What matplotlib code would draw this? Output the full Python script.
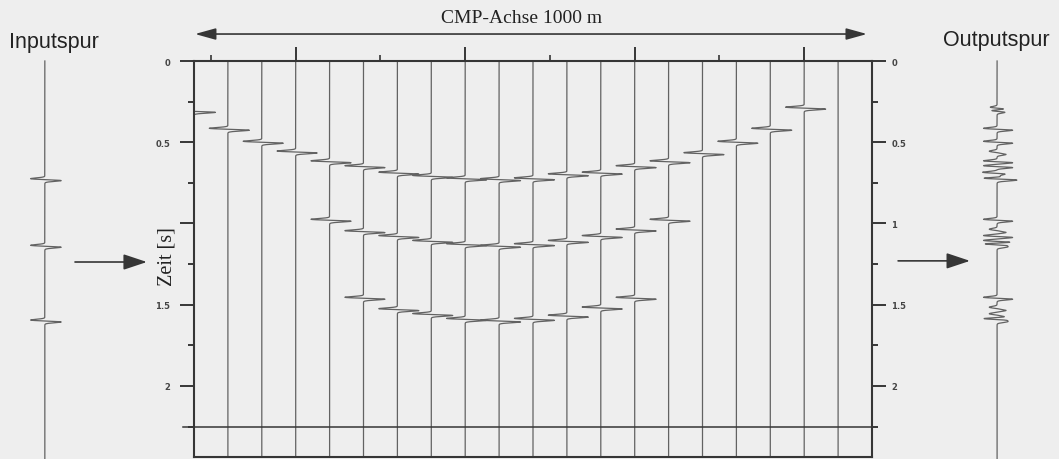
import numpy as np
import matplotlib.pyplot as plt

# Spuren 0..20 im CMP-Gather, Laufzeiten der drei Reflexionen je Spur [s]
spur = np.arange(21)
refl1_spur = np.arange(0, 19)
refl1_t = [0.31, 0.42, 0.50, 0.56, 0.62, 0.65, 0.69, 0.71, 0.725, 0.73,
           0.725, 0.70, 0.69, 0.65, 0.62, 0.57, 0.50, 0.42, 0.29]
refl2_spur = np.arange(4, 15)
refl2_t = [0.98, 1.05, 1.08, 1.11, 1.13, 1.14, 1.13, 1.11, 1.08, 1.04, 0.98]
refl3_spur = np.arange(5, 14)
refl3_t = [1.46, 1.53, 1.56, 1.59, 1.60, 1.59, 1.57, 1.52, 1.46]
input_t = [0.73, 1.14, 1.60]

yticks = [0, 0.5, 1, 1.5, 2]
yminor = [0.25, 0.75, 1.25, 1.75, 2.25]
left_labels = ['0', '0.5', '', '1.5', '2']
right_labels = ['0', '0.5', '1', '1.5', '2']
top_major = [3, 8, 13, 18]
top_minor = [0.5, 5.5, 10.5, 15.5]

t = np.arange(0, 2.46, 0.0005)


def wavelet(t0, sig=0.006):
    tau = (t - t0) / sig
    w = tau * np.exp(0.5 - tau ** 2 / 2)
    return np.where(w > 0, w * 1.15, w)


# Ereignisse je Spur sammeln
events = {i: [] for i in spur}
for s, tt in zip(refl1_spur, refl1_t):
    events[s].append(tt)
for s, tt in zip(refl2_spur, refl2_t):
    events[s].append(tt)
for s, tt in zip(refl3_spur, refl3_t):
    events[s].append(tt)

bg = '#eeeeee'
ink = '#363636'
tr_col = '#626262'

fig = plt.figure(figsize=(10.59, 4.6), dpi=100, facecolor=bg)
ax = fig.add_axes([194 / 1059, 2 / 460, 678 / 1059, 396 / 460])
ax.set_facecolor('none')
ax.set_xlim(0, 20)
ax.set_ylim(2.437, 0)

# Spuren im Gather
stack = np.zeros_like(t)
for i in spur:
    trace = np.zeros_like(t)
    for tt in events[i]:
        trace += wavelet(tt)
    stack += trace
    ax.plot(i + 0.55 * trace, t, color=tr_col, lw=0.9)

# horizontale Linie bei 2.25 s
ax.plot([-0.33, 20], [2.25, 2.25], color=ink, lw=1.1, clip_on=False)

for sp in ax.spines.values():
    sp.set_color(ink)
    sp.set_linewidth(1.5)

# linke Zeitachse
ax.set_yticks(yticks, labels=left_labels)
ax.set_yticks(yminor, minor=True)
ax.tick_params(axis='y', which='major', direction='out', length=10, width=1.4,
               color=ink, labelsize=6, labelcolor='#444444', pad=7)
ax.tick_params(axis='y', which='minor', direction='out', length=4, width=1.4, color=ink)
for lab in ax.get_yticklabels():
    lab.set_fontweight('bold')

# obere Achse (CMP)
ax.xaxis.set_ticks_position('top')
ax.set_xticks(top_major, labels=[])
ax.set_xticks(top_minor, minor=True)
ax.tick_params(axis='x', which='major', direction='out', length=10, width=1.4, color=ink)
ax.tick_params(axis='x', which='minor', direction='out', length=4, width=1.2, color=ink)

# rechte Zeitachse
ax2 = ax.twinx()
ax2.set_ylim(2.437, 0)
ax2.set_yticks(yticks, labels=right_labels)
ax2.set_yticks(yminor, minor=True)
ax2.tick_params(axis='y', which='major', direction='out', length=10, width=1.4,
                color=ink, labelsize=6, labelcolor='#444444', pad=4)
ax2.tick_params(axis='y', which='minor', direction='out', length=4, width=1.4, color=ink)
for lab in ax2.get_yticklabels():
    lab.set_fontweight('bold')
for sp in ax2.spines.values():
    sp.set_visible(False)

# Inputspur
inp = np.zeros_like(t)
for tt in input_t:
    inp += wavelet(tt)
ax.plot(-4.4 + 0.42 * inp, t, color=tr_col, lw=0.9, clip_on=False)

# Outputspur = Summe aller Spuren ohne Korrektur
ax.plot(23.69 + 0.2 * stack, t, color=tr_col, lw=0.9, clip_on=False)

arrow = dict(arrowstyle='-|>,head_length=0.9,head_width=0.3', color=ink, lw=1.2,
             mutation_scale=16, shrinkA=0, shrinkB=0)
ax.annotate('', xy=(-1.39, 1.237), xytext=(-3.51, 1.237), arrowprops=arrow,
            annotation_clip=False)
ax.annotate('', xy=(22.89, 1.23), xytext=(20.77, 1.23), arrowprops=arrow,
            annotation_clip=False)
ax.annotate('', xy=(19.85, -0.166), xytext=(0.03, -0.166),
            arrowprops=dict(arrowstyle='<|-|>,head_length=0.9,head_width=0.25',
                            color=ink, lw=1.2, mutation_scale=14, shrinkA=0, shrinkB=0),
            annotation_clip=False)

ax.text(9.65, -0.27, 'CMP-Achse 1000 m', family='Liberation Serif', fontsize=14,
        color='#222222', ha='center', va='center', clip_on=False)
ax.text(-4.13, -0.117, 'Inputspur', family='Liberation Sans', fontsize=15.5,
        color='#222222', ha='center', va='center', clip_on=False)
ax.text(23.66, -0.135, 'Outputspur', family='Liberation Sans', fontsize=15.5,
        color='#222222', ha='center', va='center', clip_on=False)
ax.text(-0.8, 1.2, 'Zeit [s]', family='Liberation Serif', fontsize=14.5, rotation=90,
        color='#222222', ha='center', va='center', clip_on=False)

fig.savefig('out.png', dpi=100, facecolor=bg)
